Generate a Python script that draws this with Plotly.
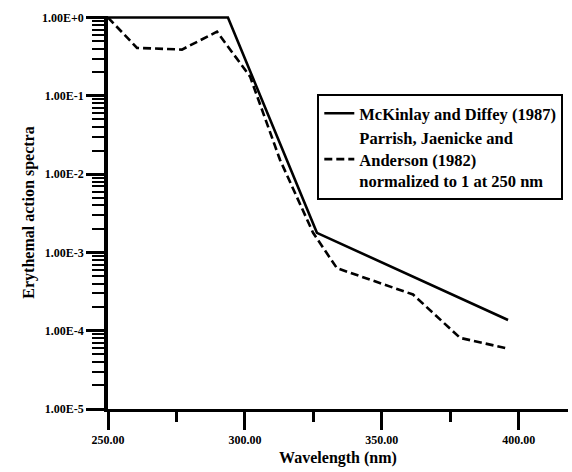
import plotly.graph_objects as go

# Data
mck_wl = [250.0, 293.8, 326.3, 396.1]
mck_val = [1.0, 1.0, 1.78e-3, 1.37e-4]

par_wl = [250.0, 260.6, 277.0, 289.8, 301.9, 312.8, 324.9, 333.6, 361.4, 378.6, 396.1]
par_val = [1.0, 0.41, 0.39, 0.66, 0.176, 0.0153, 1.78e-3, 6.3e-4, 2.9e-4, 8.1e-5, 5.9e-5]

x_ticktext = ["250.00", "300.00", "350.00", "400.00"]
y_exponents = [0, -1, -2, -3, -4, -5]
y_ticktext = ["1.00E+0", "1.00E-1", "1.00E-2", "1.00E-3", "1.00E-4", "1.00E-5"]

name_mck = "<b>McKinlay and Diffey (1987)</b>"
name_par = "<b>Parrish, Jaenicke and<br>Anderson (1982)<br>normalized to 1 at 250 nm</b>"

FONT = "Liberation Serif"
X_RANGE = [250, 418]
Y_RANGE = [-5, 0.02]

x_alias = {t: "<b>" + t + "</b>" for t in x_ticktext}
y_alias = {}
for e, t in zip(y_exponents, y_ticktext):
    sign = "+" if e >= 0 else "-"
    for s in ([sign, "\u2212"] if e < 0 else [sign]):
        y_alias["1.00e" + s + str(abs(e))] = "<b>" + t + "</b>"

fig = go.Figure()
fig.add_trace(go.Scatter(x=mck_wl, y=mck_val, mode="lines", name=name_mck,
                         line=dict(color="black", width=2.6)))
fig.add_trace(go.Scatter(x=par_wl, y=par_val, mode="lines", name=name_par,
                         line=dict(color="black", width=2.6, dash="8px,4px")))

fig.update_layout(
    width=572, height=472,
    margin=dict(l=108, r=4, t=16, b=63),
    paper_bgcolor="white", plot_bgcolor="white",
    font=dict(family=FONT, size=12, color="black"),
    legend=dict(x=0.455, y=0.8015, xanchor="left", yanchor="top",
                bgcolor="white", bordercolor="black", borderwidth=2,
                font=dict(family=FONT, size=16.5, color="black")),
)

fig.update_xaxes(range=X_RANGE, showline=True, linecolor="black", linewidth=3,
                 ticks="outside", ticklen=18, tickwidth=3, tickcolor="black",
                 tick0=250, dtick=50, tickformat=".2f", labelalias=x_alias,
                 title=dict(text="<b>Wavelength (nm)</b>", standoff=6,
                            font=dict(family=FONT, size=16, color="black")),
                 minor=dict(ticks="outside", ticklen=10, tickwidth=3,
                            tickcolor="black", dtick=25, tick0=250))

fig.update_yaxes(type="log", range=Y_RANGE, showline=True, linecolor="black", linewidth=3.5,
                 ticks="outside", ticklen=18, tickwidth=3, tickcolor="black",
                 dtick=1, tickformat=".2e", labelalias=y_alias,
                 title=dict(text="<b>Erythemal action spectra</b>", standoff=4,
                            font=dict(family=FONT, size=16, color="black")),
                 minor=dict(ticks="outside", ticklen=12, tickwidth=2,
                            tickcolor="black", dtick="D1"))

fig.write_html("out.html")
